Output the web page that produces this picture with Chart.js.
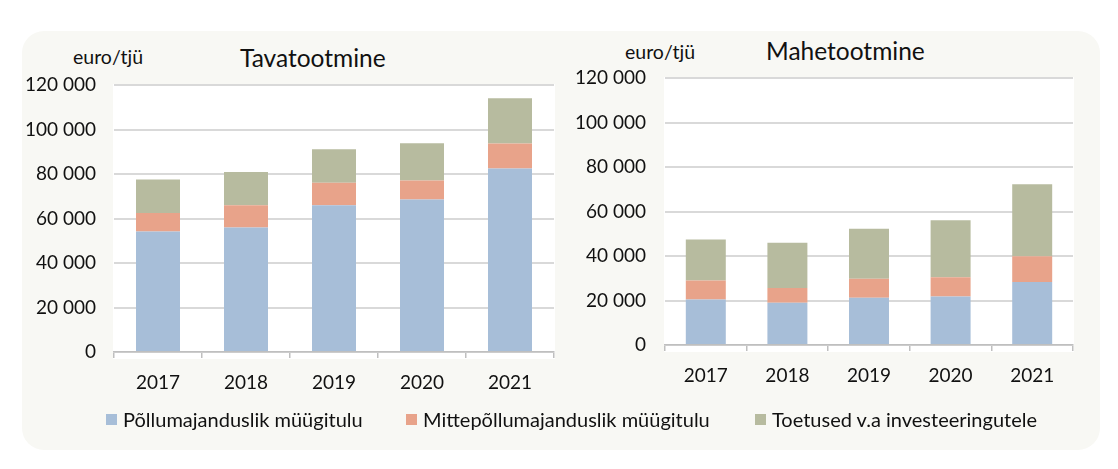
<!DOCTYPE html>
<html>
<head>
<meta charset="utf-8">
<script src="https://cdn.jsdelivr.net/npm/chart.js@4.4.1/dist/chart.umd.min.js"></script>
<style>
    html, body { margin: 0; padding: 0; background: #ffffff; }
    body { width: 1118px; height: 469px; position: relative; overflow: hidden; font-family: Lato, "Open Sans", sans-serif; color: #111111; }
    .panel { position: absolute; left: 22px; top: 31px; width: 1078px; height: 419px; background: #f8f8f4; border-radius: 22px; }
    .txt { position: absolute; white-space: nowrap; line-height: 1; }
    .unit { font-size: 19.5px; }
    .title { font-size: 24.5px; }
    canvas { position: absolute; top: 0; }
    .legend { position: absolute; top: 407px; font-size: 20px; display: flex; align-items: center; white-space: nowrap; }
    .legend span.box { display: inline-block; width: 11px; height: 11px; margin-right: 6px; }
</style>
</head>
<body>
<div class="panel"></div>
<div class="txt unit" style="left:73px; top:47px;">euro/tjü</div>
<div class="txt title" style="left:240px; top:46px;">Tavatootmine</div>
<div class="txt unit" style="left:625px; top:42px;">euro/tjü</div>
<div class="txt title" style="left:766px; top:39px;">Mahetootmine</div>

<div style="position:absolute; left:0; top:0; width:560px; height:469px;"><canvas id="tava"></canvas></div>
<div style="position:absolute; left:560px; top:0; width:558px; height:469px;"><canvas id="mahe"></canvas></div>

<div class="legend" style="left:106px;"><span class="box" style="background:#a7bed8"></span>Põllumajanduslik müügitulu</div>
<div class="legend" style="left:406px;"><span class="box" style="background:#e8a38a"></span>Mittepõllumajanduslik müügitulu</div>
<div class="legend" style="left:755px;"><span class="box" style="background:#b7bb9f"></span>Toetused v.a investeeringutele</div>

<script>
// andmed
const years = ['2017', '2018', '2019', '2020', '2021'];
const seriesNames = ['Põllumajanduslik müügitulu', 'Mittepõllumajanduslik müügitulu', 'Toetused v.a investeeringutele'];

const tavaPollu = [54200, 56000, 66000, 68500, 82500];
const tavaMitte = [8300, 10000, 10100, 8600, 11200];
const tavaToetus = [15000, 14900, 15000, 16700, 20400];

const mahePollu = [20500, 19000, 21200, 21800, 28300];
const maheMitte = [8500, 6600, 8600, 8700, 11600];
const maheToetus = [18400, 20300, 22400, 25600, 32300];

const yTicks = [0, 20000, 40000, 60000, 80000, 100000, 120000];

const colors = ['#a7bed8', '#e8a38a', '#b7bb9f'];
const fontFamily = 'Lato, "Open Sans", sans-serif';

// valge taust joonise alale
const plotBg = {
    id: 'plotBg',
    beforeDraw(chart) {
        const a = chart.chartArea;
        const ctx = chart.ctx;
        ctx.save();
        ctx.fillStyle = '#ffffff';
        ctx.fillRect(a.left - 1, a.top - 1, a.right - a.left + 2, a.bottom - a.top + 8);
        ctx.restore();
    }
};

function fmt(v) {
    return String(v).replace(/\B(?=(\d{3})+(?!\d))/g, ' ');
}

function makeChart(canvasId, data, cfg) {
    const canvas = document.getElementById(canvasId);
    if (!canvas) return;
    const ctx = canvas.getContext('2d');

    return new Chart(ctx, {
        type: 'bar',
        data: {
            labels: years,
            datasets: data.map((vals, i) => ({
                label: seriesNames[i],
                data: vals,
                backgroundColor: colors[i],
                borderWidth: 0,
                barPercentage: cfg.barPct,
                categoryPercentage: 1
            }))
        },
        plugins: [plotBg],
        options: {
            responsive: true,
            maintainAspectRatio: false,
            animation: false,
            layout: {
                padding: { left: 0, right: cfg.padRight, top: cfg.top, bottom: 469 - cfg.bottom - 60 }
            },
            plugins: {
                legend: { display: false },
                tooltip: { enabled: false }
            },
            scales: {
                x: {
                    stacked: true,
                    afterFit: (s) => { s.height = 60; },
                    grid: {
                        offset: true,
                        drawOnChartArea: false,
                        drawTicks: true,
                        tickLength: 6,
                        color: '#bfbfbf',
                        lineWidth: 1.5
                    },
                    border: { display: true, color: '#bfbfbf', width: 1.5 },
                    ticks: {
                        padding: 13,
                        color: '#111111',
                        font: { family: fontFamily, size: 19 }
                    }
                },
                y: {
                    stacked: true,
                    min: 0,
                    max: 120000,
                    afterFit: (s) => { s.width = cfg.yWidth; },
                    afterBuildTicks: (s) => { s.ticks = yTicks.map(v => ({ value: v })); },
                    grid: {
                        color: '#d9d9d9',
                        lineWidth: 2,
                        drawTicks: false
                    },
                    border: { display: false },
                    ticks: {
                        padding: cfg.tickPad,
                        color: '#111111',
                        font: { family: fontFamily, size: 19 },
                        callback: (v) => fmt(v)
                    }
                }
            }
        }
    });
}

makeChart('tava', [tavaPollu, tavaMitte, tavaToetus], {
    yWidth: 114, tickPad: 18, padRight: 6, top: 85, bottom: 352, barPct: 0.5
});
makeChart('mahe', [mahePollu, maheMitte, maheToetus], {
    yWidth: 105, tickPad: 19, padRight: 558 - 513, top: 78, bottom: 345, barPct: 0.49
});
</script>
</body>
</html>
